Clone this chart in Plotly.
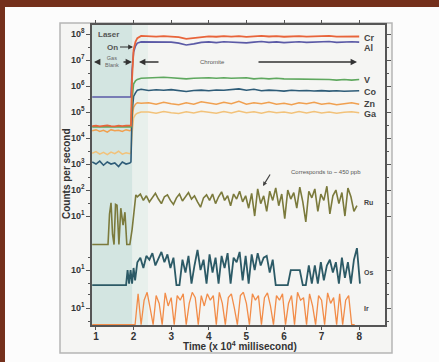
import plotly.graph_objects as go

# ---------------- data ----------------
# top panel time grid (x 10^4 ms)
t_top = [0.9, 1.0, 1.1, 1.2, 1.3, 1.4, 1.5, 1.6, 1.7, 1.8, 1.9, 1.93,
         1.96, 2.0, 2.05, 2.1, 2.2,
         2.4, 2.6, 2.8, 3.0, 3.2, 3.4, 3.6, 3.8, 4.0, 4.2, 4.4, 4.6, 4.8, 5.0,
         5.2, 5.4, 5.6, 5.8, 6.0, 6.2, 6.4, 6.6, 6.8, 7.0, 7.2, 7.4, 7.6, 7.8, 8.0]

cr = [2.9e4, 3.0e4, 2.8e4, 2.9e4, 3.1e4, 2.9e4, 2.8e4, 3.0e4, 2.9e4, 3.0e4, 2.9e4, 3.0e4,
      2.0e6, 2.5e7, 5.0e7, 7.0e7, 8.5e7,
      8.3e7, 8.0e7, 8.4e7, 8.1e7, 7.6e7, 6.5e7, 7.0e7, 8.0e7, 8.2e7, 7.9e7, 8.4e7, 8.0e7, 8.3e7, 7.8e7,
      8.2e7, 8.5e7, 8.1e7, 8.3e7, 7.9e7, 8.2e7, 8.4e7, 8.0e7, 8.3e7, 8.1e7, 8.5e7, 8.0e7, 8.2e7, 8.4e7, 8.1e7]
al = [3.8e5, 3.8e5, 3.8e5, 3.8e5, 3.8e5, 3.8e5, 3.8e5, 3.8e5, 3.8e5, 3.8e5, 3.8e5, 3.8e5,
      4.0e6, 2.0e7, 3.5e7, 4.5e7, 5.0e7,
      5.0e7, 4.8e7, 5.1e7, 4.9e7, 4.5e7, 3.8e7, 4.2e7, 4.8e7, 5.0e7, 4.7e7, 5.1e7, 4.9e7, 5.0e7, 4.6e7,
      4.9e7, 5.2e7, 4.8e7, 5.0e7, 4.7e7, 4.9e7, 5.1e7, 4.8e7, 5.0e7, 4.9e7, 5.2e7, 4.8e7, 5.0e7, 5.1e7, 4.9e7]
v = [2.7e4, 2.7e4, 2.7e4, 2.7e4, 2.7e4, 2.7e4, 2.7e4, 2.7e4, 2.7e4, 2.7e4, 2.7e4, 2.7e4,
     3.0e5, 1.2e6, 1.6e6, 1.8e6, 2.0e6,
     2.1e6, 2.1e6, 2.2e6, 2.1e6, 2.0e6, 1.9e6, 2.0e6, 2.1e6, 2.1e6, 2.0e6, 2.1e6, 2.0e6, 2.0e6, 2.1e6,
     1.9e6, 2.0e6, 1.9e6, 2.0e6, 1.9e6, 1.9e6, 1.8e6, 1.9e6, 1.8e6, 1.8e6, 1.8e6, 1.7e6, 1.8e6, 1.7e6, 1.8e6]
co = [1.2e3, 1.0e3, 1.3e3, 0.9e3, 1.2e3, 1.0e3, 1.1e3, 0.8e3, 1.2e3, 1.0e3, 1.1e3, 1.2e3,
      1.0e5, 4.0e5, 5.5e5, 7.0e5, 7.5e5,
      6.8e5, 7.2e5, 6.9e5, 7.3e5, 6.6e5, 6.2e5, 6.8e5, 7.0e5, 6.6e5, 7.1e5, 6.9e5, 7.4e5, 7.8e5, 6.9e5,
      7.5e5, 6.6e5, 7.0e5, 6.8e5, 6.4e5, 6.9e5, 6.6e5, 6.8e5, 6.5e5, 6.7e5, 6.4e5, 6.6e5, 6.3e5, 6.5e5, 6.6e5]
zn = [1.9e4, 2.1e4, 1.8e4, 2.0e4, 1.7e4, 2.1e4, 1.9e4, 2.0e4, 1.8e4, 2.1e4, 1.9e4, 2.0e4,
      5.0e4, 1.5e5, 2.0e5, 2.3e5, 2.2e5,
      2.3e5, 2.0e5, 2.4e5, 2.1e5, 1.9e5, 2.3e5, 2.0e5, 2.5e5, 2.2e5, 2.0e5, 2.4e5, 2.1e5, 2.6e5, 2.0e5,
      2.3e5, 2.1e5, 2.4e5, 2.0e5, 2.2e5, 1.9e5, 2.3e5, 2.1e5, 2.4e5, 2.0e5, 2.2e5, 1.9e5, 2.1e5, 2.3e5, 2.0e5]
ga = [2.6e3, 3.0e3, 2.4e3, 2.8e3, 2.3e3, 2.9e3, 2.5e3, 3.1e3, 2.4e3, 2.7e3, 2.5e3, 2.8e3,
      1.5e4, 6.0e4, 8.0e4, 9.0e4, 1.0e5,
      1.0e5, 0.9e5, 1.05e5, 0.95e5, 0.88e5, 1.02e5, 0.92e5, 1.08e5, 0.96e5, 0.9e5, 1.05e5, 0.93e5, 1.1e5, 0.95e5,
      1.02e5, 0.9e5, 1.06e5, 0.94e5, 1.0e5, 0.9e5, 1.04e5, 0.92e5, 1.05e5, 0.93e5, 1.0e5, 0.9e5, 0.98e5, 1.03e5, 0.95e5]

# Ru (blank + laser-on portion)
ru_t_blank = [0.9, 1.1, 1.32, 1.36, 1.40, 1.44, 1.48, 1.52, 1.56, 1.61, 1.66, 1.72, 1.77, 1.82, 1.90, 1.96, 2.01, 2.06]
ru_blank = [0.8, 0.8, 0.8, 12, 32, 2, 0.8, 28, 26, 0.8, 20, 4.5, 14, 0.8, 0.8, 3, 11, 65]
ru_signal = [55, 70, 40, 60, 35, 50, 75, 45, 30, 55, 65, 40, 28, 50, 70, 38, 55, 80, 45, 60,
             35, 22, 50, 65, 40, 70, 30, 55, 85, 40, 60, 25, 70, 45, 90, 35, 60, 20, 75,
             10, 110, 30, 60, 15, 90, 40, 120, 25, 70, 8, 100, 45, 80, 20, 130, 35, 6, 90,
             50, 110, 15, 70, 40, 140, 12, 60, 100, 30, 80, 10, 120, 55, 15, 25]

# Os
os_t_blank = [0.9, 1.8, 1.84, 1.88, 1.92, 1.96, 2.0, 2.04]
os_blank = [2.6, 2.6, 10, 3, 10, 3, 12, 4]
os_signal = [20, 30, 12, 35, 25, 45, 15, 30, 50, 20, 40, 12, 30, 2.6, 2.6, 25, 8, 35, 3, 15,
             60, 10, 25, 3, 40, 8, 30, 3, 35, 12, 45, 3, 30, 20, 50, 4, 35, 3, 40, 10,
             45, 15, 30, 35, 8, 25, 2.6, 2.6, 2.6, 2.6, 2.6, 10, 10, 10, 10, 2.6, 2.6, 15,
             3, 15, 3, 20, 4, 15, 25, 8, 20, 3, 30, 5, 20, 3, 25, 70, 3]

# Ir
ir_t_blank = [0.9, 1.5, 2.0]
ir_blank = [2.3, 2.3, 2.3]
ir_signal = [2.3, 35, 2.3, 20, 40, 10, 2.3, 30, 15, 2.3, 38, 12, 25, 2.3, 30, 20, 35, 2.3, 15, 40,
             25, 2.3, 30, 12, 35, 20, 30, 2.3, 40, 15, 2.3, 25, 35, 10, 2.3, 30, 40, 15, 2.3, 35,
             20, 30, 2.3, 25, 38, 12, 2.3, 30, 20, 35, 2.3, 15, 30, 2.3, 40, 20, 25, 2.3, 35, 12,
             2.3, 30, 20, 2.3, 38, 15, 25, 2.3, 35, 2.3, 20, 30, 2.3, 2.3]

x_ticks = [1, 2, 3, 4, 5, 6, 7, 8]
y_top_ticks = [1e1, 1e2, 1e3, 1e4, 1e5, 1e6, 1e7, 1e8]
y_top_text = ["10<sup>1</sup>", "10<sup>2</sup>", "10<sup>3</sup>", "10<sup>4</sup>",
              "10<sup>5</sup>", "10<sup>6</sup>", "10<sup>7</sup>", "10<sup>8</sup>"]

# sampling grids for the noisy laser-on signals
ru_t = [round(2.10 + 0.08 * i, 2) for i in range(len(ru_signal))]
os_t = [round(2.10 + 0.08 * i, 2) for i in range(len(os_signal))]
ir_t = [round(2.04 + 0.08 * i, 2) for i in range(len(ir_signal))]

# ---------------- figure ----------------
W, H = 439, 362
L, R, T, B = 92, 54, 25, 37
PW, PH = W - L - R, H - T - B


def px(xp):
    return (xp - L) / PW


def py(yp):
    return (H - B - yp) / PH


fig = go.Figure()


def line(x, y, color, width, yaxis="y"):
    fig.add_trace(go.Scatter(x=x, y=y, mode="lines", yaxis=yaxis, xaxis="x",
                             line=dict(color=color, width=width), showlegend=False,
                             hoverinfo="skip"))


line(t_top, ga, "#f2c27a", 1.5)
line(t_top, zn, "#f0a050", 1.5)
line(t_top, co, "#2e5c78", 1.6)
line(t_top, v, "#5fa85f", 1.6)
line(t_top, al, "#5b5aa6", 1.6)
line(t_top, cr, "#e8643a", 1.8)
line(ru_t_blank + ru_t, ru_blank + ru_signal, "#7b7a3c", 1.6)
line(os_t_blank + os_t, os_blank + os_signal, "#2c5a66", 1.8, "y2")
line(ir_t_blank + ir_t, ir_blank + ir_signal, "#f28c48", 1.3, "y3")
# carrier trace for the top frame axis
fig.add_trace(go.Scatter(x=[None], y=[None], xaxis="x2", yaxis="y", mode="lines",
                         showlegend=False, hoverinfo="skip"))

axcol = "#555555"
tickfont = dict(family="Liberation Sans, Arial", size=9, color="#333333", weight=700)

d1 = py(248)
d2 = py(290)

shapes = [
    dict(type="rect", xref="paper", yref="paper", x0=px(5), x1=px(445), y0=py(370), y1=py(7),
         fillcolor="#fcfcfc", line=dict(width=0), layer="below"),
    dict(type="rect", xref="paper", yref="paper", x0=px(60), x1=px(392), y0=py(353), y1=py(23),
         fillcolor="#f5f5f3", line=dict(color="#b5b5b5", width=1.5), layer="below"),
    dict(type="rect", xref="paper", yref="paper", x0=0, x1=px(132.5), y0=0, y1=1,
         fillcolor="#d3e5e1", line=dict(width=0), layer="below"),
    dict(type="rect", xref="paper", yref="paper", x0=px(132.5), x1=px(148), y0=0, y1=1,
         fillcolor="#e8f0ec", line=dict(width=0), layer="below"),
]

ann = []
for txt, yp, sz in [("Cr", 38, 9), ("Al", 48, 9), ("V", 80, 9), ("Co", 92, 9), ("Zn", 104, 9),
                    ("Ga", 114, 9), ("Ru", 202, 7), ("Os", 272, 7), ("Ir", 308, 7)]:
    ann.append(dict(x=px(362), y=py(yp), xref="paper", yref="paper", text=txt, showarrow=False,
                    xanchor="left", yanchor="middle",
                    font=dict(family="Liberation Sans, Arial", size=sz, color="#444444", weight=700)))

small = dict(family="Liberation Sans, Arial", size=8, color="#555555", weight=700)
arrow_common = dict(xref="paper", yref="paper", text="", showarrow=True, arrowhead=2,
                    arrowsize=0.8, arrowwidth=1.6, arrowcolor="#333333")
ann += [
    dict(x=px(108), y=py(34), xref="paper", yref="paper", text="Laser", showarrow=False,
         font=small, xanchor="center", yanchor="middle"),
    dict(x=px(133), y=py(47), xref="paper", yref="paper", text="On", showarrow=True,
         ax=-13, ay=0, arrowhead=2, arrowsize=0.8, arrowwidth=1.2, arrowcolor="#333333",
         font=small, xanchor="right"),
    dict(x=px(112), y=py(62), xref="paper", yref="paper", text="Gas<br>Blank", showarrow=False,
         font=dict(family="Liberation Sans, Arial", size=5.5, color="#666666"), xanchor="center",
         yanchor="middle"),
    dict(x=px(94), y=py(62), ax=7, ay=0, **arrow_common),
    dict(x=px(132), y=py(62), ax=-10, ay=0, **arrow_common),
    dict(x=px(139), y=py(62), ax=21, ay=0, **arrow_common),
    dict(x=px(357), y=py(62), ax=-100, ay=0, **arrow_common),
    dict(x=px(212), y=py(62), xref="paper", yref="paper", text="Chromite", showarrow=False,
         font=dict(family="Liberation Sans, Arial", size=6, color="#555555"),
         xanchor="center", yanchor="middle"),
    dict(x=px(326), y=py(172), xref="paper", yref="paper", text="Corresponds to ~ 450 ppb",
         showarrow=False, font=dict(family="Liberation Sans, Arial", size=6, color="#555555"),
         xanchor="center", yanchor="middle"),
    dict(x=px(263), y=py(186), ax=8, ay=-13, xref="paper", yref="paper", text="", showarrow=True,
         arrowhead=2, arrowsize=0.7, arrowwidth=1.2, arrowcolor="#444444"),
    dict(x=px(66), y=py(174), xref="paper", yref="paper", text="Counts per second",
         showarrow=False, textangle=-90, xanchor="center", yanchor="middle",
         font=dict(family="Liberation Sans, Arial", size=10, color="#333333", weight=700)),
    dict(x=px(240), y=py(346), xref="paper", yref="paper",
         text="Time (x 10<sup>4</sup> millisecond)", showarrow=False,
         xanchor="center", yanchor="middle",
         font=dict(family="Liberation Sans, Arial", size=10, color="#333333", weight=700)),
]

yax_common = dict(type="log", showgrid=False, zeroline=False, showline=True, linecolor=axcol,
                  linewidth=1.5, ticks="outside", ticklen=4, tickcolor=axcol, mirror="ticks",
                  tickfont=tickfont, anchor="x")

fig.update_layout(
    width=W, height=H, margin=dict(l=L, r=R, t=T, b=B),
    paper_bgcolor="#74301c", plot_bgcolor="rgba(0,0,0,0)",
    shapes=shapes, annotations=ann,
    xaxis=dict(range=[0.894, 8.686], domain=[0, 1], anchor="y3", showgrid=False, zeroline=False,
               showline=True, linecolor=axcol, linewidth=1.5, ticks="outside", ticklen=3,
               tickcolor=axcol, tickvals=x_ticks, ticklabelstandoff=-2,
               tickfont=dict(family="Liberation Sans, Arial", size=10, color="#333333", weight=700)),
    xaxis2=dict(range=[0.894, 8.686], domain=[0, 1], anchor="y", side="top", overlaying="x",
                showgrid=False, zeroline=False, showline=True, linecolor=axcol, linewidth=1.5,
                ticks="outside", ticklen=3, tickcolor=axcol, tickvals=x_ticks,
                showticklabels=False),
    yaxis=dict(domain=[d1, 1], range=[-0.23, 8.35], tickvals=y_top_ticks, ticktext=y_top_text,
               minor=dict(tickvals=[3.16e1, 3.16e2, 3.16e3, 3.16e4, 3.16e5, 3.16e6, 3.16e7],
                          ticks="outside", ticklen=2, tickcolor=axcol),
               **yax_common),
    yaxis2=dict(domain=[d2, d1], range=[0.23, 1.85], tickvals=[10], ticktext=["10<sup>1</sup>"],
                minor=dict(tickvals=[3.16, 31.6], ticks="outside", ticklen=2, tickcolor=axcol),
                **yax_common),
    yaxis3=dict(domain=[0, d2], range=[0.35, 1.69], tickvals=[10], ticktext=["10<sup>1</sup>"],
                minor=dict(tickvals=[3.16, 31.6], ticks="outside", ticklen=2, tickcolor=axcol),
                **yax_common),
)

fig.write_html("out.html", config={"displayModeBar": False},
               post_script="document.body.style.margin='0px';document.body.style.overflow='hidden';")
